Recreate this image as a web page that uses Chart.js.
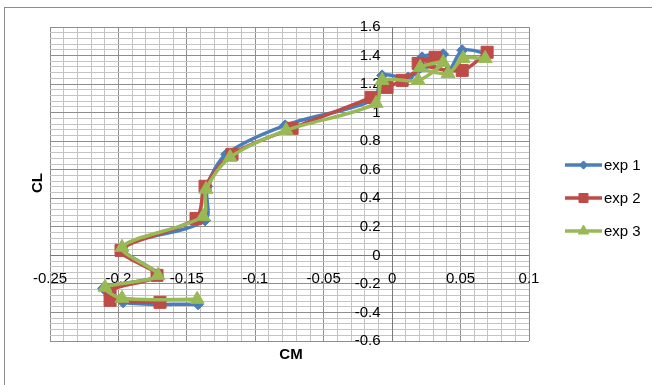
<!DOCTYPE html>
<html>
<head>
<meta charset="utf-8">
<script src="https://cdn.jsdelivr.net/npm/chart.js@4"></script>
<style>
  html, body { margin: 0; padding: 0; background: #fff; }
  #wrap { position: relative; width: 652px; height: 385px; overflow: hidden; }
  #frame { position: absolute; left: 4px; top: 7px; width: 700px; height: 420px;
           border-left: 1px solid #8c8c8c; border-top: 1px solid #8c8c8c; }
  canvas { position: absolute; left: 0; top: 0; }
</style>
</head>
<body>
<div id="wrap">
  <div id="frame"></div>
  <canvas id="chart" width="652" height="385"></canvas>
</div>
<script>
// Pitching moment (CM) vs lift coefficient (CL), three runs
const exp1CM = [-0.1418, -0.1966, -0.2112, -0.1711, -0.1974, -0.1367, -0.1352, -0.1213, -0.0782, -0.0132, -0.0073, 0.0117, 0.0373, 0.0219, 0.0409, 0.0512, 0.0687];
const exp1CL = [-0.343, -0.329, -0.231, -0.140, 0.056, 0.245, 0.484, 0.708, 0.911, 1.093, 1.261, 1.247, 1.409, 1.388, 1.296, 1.437, 1.416];

const exp2CM = [-0.1696, -0.2061, -0.2061, -0.1718, -0.1981, -0.1433, -0.1367, -0.1170, -0.0731, -0.0154, -0.0037, 0.0073, 0.0314, 0.0190, 0.0512, 0.0694];
const exp2CL = [-0.329, -0.315, -0.245, -0.140, 0.035, 0.259, 0.484, 0.708, 0.890, 1.107, 1.177, 1.226, 1.388, 1.345, 1.296, 1.423];

const exp3CM = [-0.1425, -0.1974, -0.2098, -0.1711, -0.1974, -0.1382, -0.1360, -0.1184, -0.0775, -0.0117, -0.0073, 0.0190, 0.0373, 0.0205, 0.0409, 0.0519, 0.0680];
const exp3CL = [-0.308, -0.301, -0.224, -0.140, 0.056, 0.273, 0.463, 0.687, 0.876, 1.065, 1.226, 1.226, 1.352, 1.317, 1.275, 1.380, 1.380];

const seriesNames = ['exp 1', 'exp 2', 'exp 3'];

const xTicks = [-0.25, -0.2, -0.15, -0.1, -0.05, 0, 0.05, 0.1];
const xTickLabels = ['-0.25', '-0.2', '-0.15', '-0.1', '-0.05', '0', '0.05', '0.1'];
const yTicks = [-0.6, -0.4, -0.2, 0, 0.2, 0.4, 0.6, 0.8, 1, 1.2, 1.4, 1.6];
const yTickLabels = ['-0.6', '-0.4', '-0.2', '0', '0.2', '0.4', '0.6', '0.8', '1', '1.2', '1.4', '1.6'];
const xTitle = 'CM';
const yTitle = 'CL';

const FONT = '"Liberation Sans", Arial, sans-serif';
const MAJOR_GRID = '#8e8e8e';
const MINOR_GRID = '#c4c4c4';
const AXIS_LINE = '#7a7a7a';

const toPoints = (xs, ys) => xs.map((v, i) => ({ x: v, y: ys[i] }));
const isMultiple = (v, step) => Math.abs(v / step - Math.round(v / step)) < 1e-6;

const styles = [
  { color: '#4a7ebb', pointStyle: 'rectRot', radius: 5.5 },
  { color: '#be4b48', pointStyle: 'rect', radius: 8.5 },
  { color: '#98b954', pointStyle: 'triangle', radius: 8 }
];

const seriesData = [toPoints(exp1CM, exp1CL), toPoints(exp2CM, exp2CL), toPoints(exp3CM, exp3CL)];

const datasets = seriesData.map((pts, i) => ({
  label: seriesNames[i],
  data: pts,
  showLine: true,
  borderColor: styles[i].color,
  backgroundColor: styles[i].color,
  borderWidth: 3.5,
  pointStyle: styles[i].pointStyle,
  pointRadius: styles[i].radius,
  pointHoverRadius: styles[i].radius,
  pointBorderWidth: 1,
  pointBorderColor: styles[i].color,
  pointBackgroundColor: styles[i].color,
  tension: 0.3,
  order: 3 - i
}));

// Axis lines through the origin, tick labels, axis titles and the legend
const decorations = {
  id: 'decorations',
  beforeDatasetsDraw(chart) {
    const { ctx } = chart;
    const xs = chart.scales.x, ys = chart.scales.y;
    const x0 = Math.round(xs.getPixelForValue(0)) + 0.5;
    const y0 = Math.round(ys.getPixelForValue(0)) + 0.5;
    ctx.save();
    ctx.strokeStyle = AXIS_LINE;
    ctx.lineWidth = 1;
    ctx.beginPath();
    ctx.moveTo(x0, ys.top); ctx.lineTo(x0, ys.bottom);
    ctx.moveTo(xs.left, y0); ctx.lineTo(xs.right, y0);
    ctx.stroke();

    ctx.fillStyle = '#000';
    ctx.font = '15px ' + FONT;
    ctx.textBaseline = 'middle';
    ctx.textAlign = 'center';
    xTicks.forEach((v, i) => ctx.fillText(xTickLabels[i], xs.getPixelForValue(v), y0 + 23));
    ctx.textAlign = 'right';
    yTicks.forEach((v, i) => ctx.fillText(yTickLabels[i], x0 - 12, ys.getPixelForValue(v)));

    ctx.font = 'bold 15px ' + FONT;
    ctx.textAlign = 'center';
    ctx.fillText(xTitle, 291, 355);
    ctx.save();
    ctx.translate(38, 183);
    ctx.rotate(-Math.PI / 2);
    ctx.fillText(yTitle, 0, 0);
    ctx.restore();
    ctx.restore();
  },
  afterDraw(chart) {
    const { ctx } = chart;
    ctx.save();
    const rows = [165, 198, 231];
    chart.data.datasets.forEach((ds, i) => {
      const y = rows[i];
      ctx.strokeStyle = ds.borderColor;
      ctx.lineWidth = 3.5;
      ctx.beginPath();
      ctx.moveTo(565, y); ctx.lineTo(602, y);
      ctx.stroke();
      ctx.fillStyle = ds.borderColor;
      ctx.strokeStyle = ds.borderColor;
      ctx.lineWidth = 1;
      Chart.helpers.drawPoint(ctx, { pointStyle: ds.pointStyle, radius: ds.pointRadius * 0.75, borderWidth: 1, rotation: 0 }, 583.5, y);
      ctx.fillStyle = '#000';
      ctx.font = '15px ' + FONT;
      ctx.textAlign = 'left';
      ctx.textBaseline = 'middle';
      ctx.fillText(ds.label, 604, y + 1);
    });
    ctx.restore();
  }
};

new Chart(document.getElementById('chart'), {
  type: 'scatter',
  data: { datasets },
  options: {
    responsive: false,
    animation: false,
    events: [],
    layout: { padding: { left: 50, top: 27, right: 123, bottom: 44 } },
    plugins: { legend: { display: false }, tooltip: { enabled: false } },
    scales: {
      x: {
        type: 'linear', min: -0.25, max: 0.1,
        ticks: { display: false, stepSize: 0.01, autoSkip: false },
        grid: {
          drawTicks: false,
          color: c => isMultiple(c.tick.value, 0.05) ? MAJOR_GRID : MINOR_GRID
        },
        border: { display: false }
      },
      y: {
        type: 'linear', min: -0.6, max: 1.6,
        ticks: { display: false, stepSize: 0.04, autoSkip: false },
        grid: {
          drawTicks: false,
          color: c => isMultiple(c.tick.value, 0.2) ? MAJOR_GRID : MINOR_GRID
        },
        border: { display: false }
      }
    }
  },
  plugins: [decorations]
});
</script>
</body>
</html>
